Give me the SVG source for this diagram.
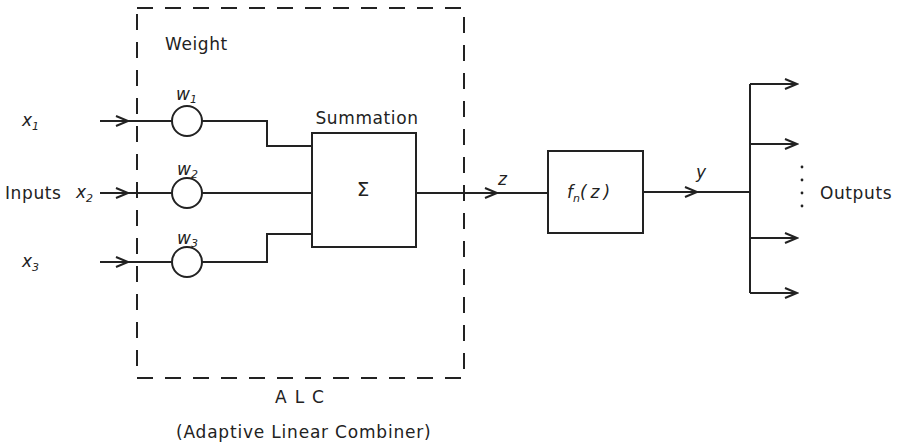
<svg xmlns="http://www.w3.org/2000/svg" width="898" height="442" viewBox="0 0 898 442">
<defs>
<style>
.ln{fill:none;stroke:#222;stroke-width:2}
.ds{fill:none;stroke:#222;stroke-width:2;stroke-dasharray:16 12}
.t{font-family:"DejaVu Sans",sans-serif;font-size:17px;letter-spacing:0.6px;fill:#222}
.i{font-family:"DejaVu Sans",sans-serif;font-size:17px;font-style:italic;fill:#222}
.s{font-family:"DejaVu Sans",sans-serif;font-size:11px;fill:#222}
</style>
<marker id="ah" markerWidth="16" markerHeight="12" refX="14" refY="6" orient="auto" markerUnits="userSpaceOnUse">
<polyline points="2,1 14,6 2,11" fill="none" stroke="#222" stroke-width="2"/>
</marker>
</defs>
<rect width="898" height="442" fill="#fff"/>
<g id="alc">
<rect class="ds" x="137" y="8" width="327" height="370"/>
<text class="t" x="165" y="50">Weight</text>
<text class="t" x="275" y="403" style="letter-spacing:8px">ALC</text>
<text class="t" x="176" y="438" style="letter-spacing:0.8px">(Adaptive Linear Combiner)</text>
</g>
<g id="inputs">
<text class="t" x="5" y="199">Inputs</text>
<text class="i" x="22" y="126">x<tspan class="s" dy="4">1</tspan></text>
<text class="i" x="76" y="198">x<tspan class="s" dy="4">2</tspan></text>
<text class="i" x="22" y="267">x<tspan class="s" dy="4">3</tspan></text>
</g>
<g id="w1">
<circle class="ln" cx="187" cy="121" r="15"/>
<text class="i" x="176" y="100">w<tspan class="s" dy="3">1</tspan></text>
</g>
<g id="w2">
<circle class="ln" cx="187" cy="193" r="15"/>
<text class="i" x="177" y="175">w<tspan class="s" dy="3">2</tspan></text>
</g>
<g id="w3">
<circle class="ln" cx="187" cy="262" r="15"/>
<text class="i" x="177" y="244">w<tspan class="s" dy="3">3</tspan></text>
</g>
<g id="summation">
<rect class="ln" x="312" y="133" width="104" height="114"/>
<text class="t" x="367" y="124" text-anchor="middle">Summation</text>
<text class="t" x="363" y="196" text-anchor="middle" style="font-size:20px;letter-spacing:0">Σ</text>
</g>
<g id="fn">
<rect class="ln" x="548" y="151" width="95" height="82"/>
<text class="i" x="567" y="198">f<tspan class="s" dy="4">n</tspan><tspan dy="-4" style="letter-spacing:4px">(z)</tspan></text>
</g>
<g id="outputs">
<text class="t" x="820" y="199">Outputs</text>
<circle cx="802" cy="167" r="1.4" fill="#222"/>
<circle cx="802" cy="180" r="1.4" fill="#222"/>
<circle cx="802" cy="193" r="1.4" fill="#222"/>
<circle cx="802" cy="206" r="1.4" fill="#222"/>
</g>
<g id="connectors">
<line class="ln" x1="100" y1="121" x2="128" y2="121" marker-end="url(#ah)"/>
<line class="ln" x1="128" y1="121" x2="172" y2="121"/>
<line class="ln" x1="100" y1="193" x2="128" y2="193" marker-end="url(#ah)"/>
<line class="ln" x1="128" y1="193" x2="172" y2="193"/>
<line class="ln" x1="100" y1="262" x2="128" y2="262" marker-end="url(#ah)"/>
<line class="ln" x1="128" y1="262" x2="172" y2="262"/>
<polyline class="ln" points="202,121 267,121 267,146 312,146"/>
<line class="ln" x1="202" y1="193" x2="312" y2="193"/>
<polyline class="ln" points="202,262 267,262 267,234 312,234"/>
<line class="ln" x1="416" y1="193" x2="497" y2="193" marker-end="url(#ah)"/>
<line class="ln" x1="497" y1="193" x2="548" y2="193"/>
<text class="i" x="498" y="185">z</text>
<line class="ln" x1="643" y1="192" x2="697" y2="192" marker-end="url(#ah)"/>
<line class="ln" x1="697" y1="192" x2="750" y2="192"/>
<text class="i" x="696" y="178">y</text>
<line class="ln" x1="750" y1="84" x2="750" y2="293"/>
<line class="ln" x1="750" y1="84" x2="797" y2="84" marker-end="url(#ah)"/>
<line class="ln" x1="750" y1="144" x2="797" y2="144" marker-end="url(#ah)"/>
<line class="ln" x1="750" y1="238" x2="797" y2="238" marker-end="url(#ah)"/>
<line class="ln" x1="750" y1="293" x2="797" y2="293" marker-end="url(#ah)"/>
</g>
</svg>
